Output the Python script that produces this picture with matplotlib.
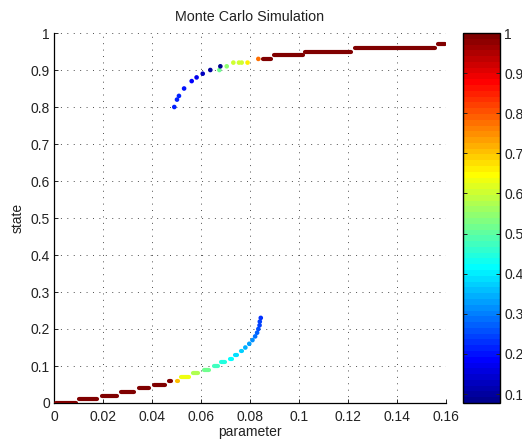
import numpy as np
import matplotlib
matplotlib.use('Agg')
import matplotlib.pyplot as plt
from matplotlib.colors import ListedColormap, Normalize
from matplotlib.collections import LineCollection

# ---------------- data ----------------
# horizontal runs of states: level, start parameter, end parameter, colour value
run_level = [0.00, 0.01, 0.02, 0.03, 0.04, 0.05, 0.06, 0.06, 0.07, 0.08, 0.09,
             0.10, 0.11, 0.12, 0.13, 0.14,
             0.93, 0.94, 0.95, 0.96, 0.97]
run_start = [0.0000, 0.0095, 0.0187, 0.0265, 0.0337, 0.0401, 0.0460, 0.0492, 0.0510, 0.0560, 0.0604,
             0.0643, 0.0674, 0.0708, 0.0732, 0.0756,
             0.0843, 0.0888, 0.1018, 0.1219, 0.1559]
run_end = [0.0097, 0.0183, 0.0265, 0.0337, 0.0398, 0.0461, 0.0487, 0.0514, 0.0560, 0.0598, 0.0642,
           0.0676, 0.0707, 0.0734, 0.0757, 0.0777,
           0.0895, 0.1024, 0.1222, 0.1562, 0.1605]
run_value = [1, 1, 1, 1, 1, 1, 1, 0.70, 0.63, 0.57, 0.51,
             0.47, 0.44, 0.41, 0.39, 0.37,
             1, 1, 1, 1, 1]

# single simulated states
dot_param = [0.0781, 0.0797, 0.0810, 0.0821, 0.0829, 0.0834, 0.0839, 0.0840, 0.0844,
             0.0491, 0.0502, 0.0510, 0.0531, 0.0562, 0.0582, 0.0607, 0.0638, 0.0675,
             0.0679, 0.0705, 0.0732, 0.0755, 0.0766, 0.0790, 0.0834]
dot_state = [0.15, 0.16, 0.17, 0.18, 0.19, 0.20, 0.21, 0.22, 0.23,
             0.80, 0.82, 0.83, 0.85, 0.87, 0.88, 0.89, 0.90, 0.90,
             0.91, 0.91, 0.92, 0.92, 0.92, 0.92, 0.93]
dot_value = [0.35, 0.33, 0.31, 0.29, 0.27, 0.26, 0.25, 0.24, 0.23,
             0.22, 0.22, 0.21, 0.20, 0.18, 0.17, 0.13, 0.10, 0.52,
             0.09, 0.55, 0.60, 0.60, 0.60, 0.66, 0.78]

x_ticks = [0, 0.02, 0.04, 0.06, 0.08, 0.1, 0.12, 0.14, 0.16]
x_ticklabels = ['0', '0.02', '0.04', '0.06', '0.08', '0.1', '0.12', '0.14', '0.16']
y_ticks = [0, 0.1, 0.2, 0.3, 0.4, 0.5, 0.6, 0.7, 0.8, 0.9, 1]
y_ticklabels = ['0', '0.1', '0.2', '0.3', '0.4', '0.5', '0.6', '0.7', '0.8', '0.9', '1']
c_ticks = [0.1, 0.2, 0.3, 0.4, 0.5, 0.6, 0.7, 0.8, 0.9, 1]
c_ticklabels = ['0.1', '0.2', '0.3', '0.4', '0.5', '0.6', '0.7', '0.8', '0.9', '1']
c_min, c_max = 0.0776, 1.0


def matlab_jet(n=64):
    m = int(np.ceil(n / 4))
    u = np.concatenate([np.arange(1, m + 1) / m, np.ones(m - 1), np.arange(m, 0, -1) / m])
    g = int(np.ceil(m / 2)) - (1 if n % 4 == 1 else 0) + np.arange(1, len(u) + 1)
    r = g + m
    b = g - m
    g = g[g <= n]
    r = r[r <= n]
    b = b[b >= 1]
    J = np.zeros((n, 3))
    J[r - 1, 0] = u[:len(r)]
    J[g - 1, 1] = u[:len(g)]
    J[b - 1, 2] = u[len(u) - len(b):]
    return J


cmap = ListedColormap(matlab_jet(64))
norm = Normalize(vmin=c_min, vmax=c_max)

plt.rcParams['font.family'] = ['Liberation Sans', 'DejaVu Sans']
plt.rcParams['font.size'] = 10

fig = plt.figure(figsize=(5.22, 4.41), dpi=100)
ax = fig.add_axes([54 / 522, 1 - 403 / 441, 392 / 522, 370 / 441])
cax = fig.add_axes([463 / 522, 1 - 403 / 441, 37 / 522, 370 / 441])

lw_pt = 3.0
trim = (lw_pt / 72 * 100 / 2) / 392 * 0.16  # half line width in data units
segs = [[(s + trim, y), (max(e - trim, s + trim + 1e-5), y)]
        for y, s, e in zip(run_level, run_start, run_end)]
lc = LineCollection(segs, cmap=cmap, norm=norm, linewidths=lw_pt, capstyle='round', zorder=3)
lc.set_array(np.asarray(run_value))
ax.add_collection(lc)

ax.scatter(dot_param, dot_state, c=dot_value, cmap=cmap, norm=norm, s=11,
           linewidths=0, zorder=3)

ax.set_xlim(0, 0.16)
ax.set_ylim(0, 1)
ax.set_xticks(x_ticks)
ax.set_xticklabels(x_ticklabels)
ax.set_yticks(y_ticks)
ax.set_yticklabels(y_ticklabels)
ax.tick_params(direction='in', length=3, width=0.7, colors='#222222')
ax.tick_params(axis='x', pad=5)
ax.tick_params(axis='y', pad=3)
ax.grid(True, color='0.3', linestyle=(0, (1, 5.6)), linewidth=0.7)
ax.set_axisbelow(True)
for sp in ['top', 'right']:
    ax.spines[sp].set_visible(False)
for sp in ['left', 'bottom']:
    ax.spines[sp].set_linewidth(0.9)
ax.set_title('Monte Carlo Simulation', fontsize=10.3, color='#222222', pad=9)
ax.set_xlabel('parameter', color='#222222', labelpad=1)
ax.set_ylabel('state', color='#222222', labelpad=4)

cb = fig.colorbar(lc, cax=cax, ticks=c_ticks)
cb.set_ticklabels(c_ticklabels)
cb.outline.set_linewidth(1.0)
cax.tick_params(direction='in', length=3, width=0.7, left=True, right=True,
                labelleft=False, labelright=True, pad=3, colors='#222222')

fig.savefig('out.png', dpi=100)
